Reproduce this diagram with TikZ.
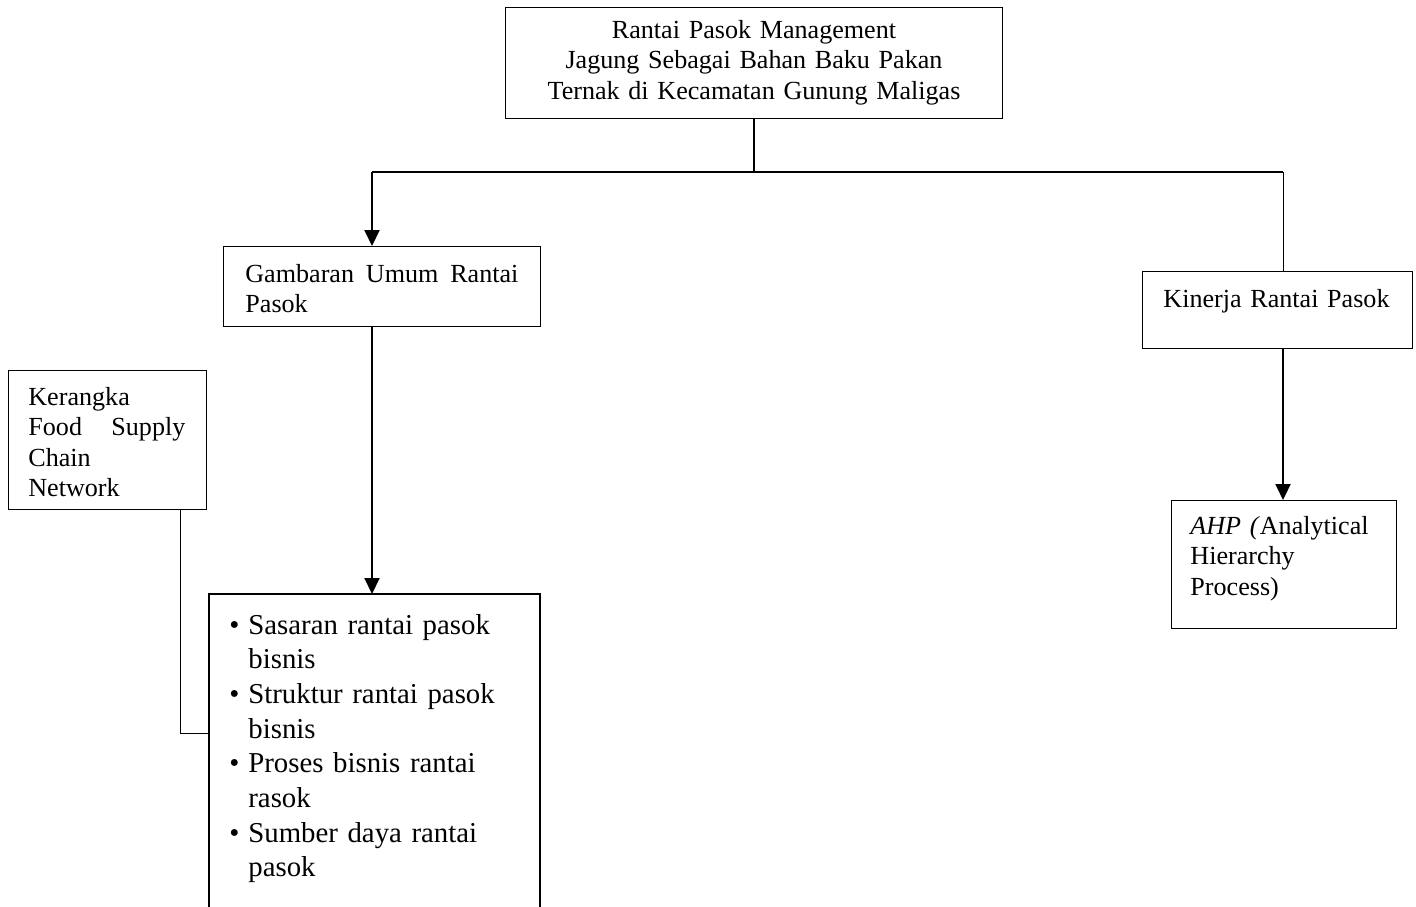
\documentclass[tikz,border=0pt]{standalone}
\usepackage{fontspec}
\setmainfont{Liberation Serif}
\usetikzlibrary{arrows.meta}

\newcommand\itembullet{\leavevmode\llap{\textbullet\hspace{4.5pt}}}

\begin{document}
\begin{tikzpicture}[x=0.5pt,y=-0.5pt,
  box/.style={draw, line width=0.7pt, inner sep=0pt, anchor=north west},
  txt/.style={inner sep=0pt, anchor=base west, align=left,
    font=\fontsize{13.05}{15.25}\selectfont},
  listtxt/.style={inner sep=0pt, anchor=base west, align=left,
    font=\fontsize{14.4}{17.35}\selectfont},
  link/.style={line width=0.75pt},
  thinlink/.style={line width=0.5pt},
  arr/.style={line width=1pt, -{Triangle[length=8pt,width=7.5pt]}}]
\useasboundingbox (0,0) rectangle (1416,906);

% boxes
\node[box, minimum width=248.5pt, minimum height=55.5pt] (top) at (505,7) {};
\node[box, minimum width=158.5pt, minimum height=40pt] (gam) at (223,246) {};
\node[box, minimum width=99pt, minimum height=69.5pt] (ker) at (8,370) {};
\node[box, minimum width=135pt, minimum height=38.5pt] (kin) at (1142,271) {};
\node[box, minimum width=112.5pt, minimum height=64pt] (ahp) at (1171,500) {};
% list box, open at the bottom
\node[inner sep=0pt, anchor=north west, minimum width=165pt, minimum height=160pt] (list) at (209,594) {};
\draw[line width=0.7pt] (list.south west) -- (list.north west) -- (list.north east) -- (list.south east);

% texts
\node[txt, text width=240pt, align=center, anchor=base] (toptext) at (754,38)
  {Rantai Pasok Management\\Jagung Sebagai Bahan Baku Pakan\\Ternak di Kecamatan Gunung Maligas};
\node[txt, text width=140pt] (gamtext) at (245,282)
  {\makebox[136.5pt][l]{Gambaran\hfill Umum\hfill Rantai}\\Pasok};
\node[txt, text width=85pt] (kertext) at (28,405)
  {Kerangka\\\makebox[78.5pt][l]{Food\hfill Supply}\\Chain\\Network};
\node[txt, text width=125pt] (kintext) at (1163,307) {Kinerja Rantai Pasok};
\node[txt, text width=100pt] (ahptext) at (1190,534)
  {\textit{AHP (}Analytical\\Hierarchy\\Process)};
\node[listtxt, text width=140pt] (listtext) at (248,634)
  {\itembullet Sasaran rantai pasok\\bisnis\\%
   \itembullet Struktur rantai pasok\\bisnis\\%
   \itembullet Proses bisnis rantai\\rasok\\%
   \itembullet Sumber daya rantai\\pasok};

% connectors
\coordinate (jn) at (754,172);
\coordinate (jl) at (372,172);
\coordinate (jr) at (1283,172);
\coordinate (kc) at (180,733);
\draw[link] (top.south -| jn) -- (jn);
\draw[link] (jl) -- (jr);
\draw[arr] (jl) -- (jl |- gam.north);
\draw[thinlink] (jr) -- (jr |- kin.north);
\draw[arr] (jl |- gam.south) -- (jl |- list.north);
\draw[arr] (jr |- kin.south) -- (jr |- ahp.north);
\draw[thinlink] (kc |- ker.south) -- (kc) -- (kc -| list.west);
\end{tikzpicture}
\end{document}
